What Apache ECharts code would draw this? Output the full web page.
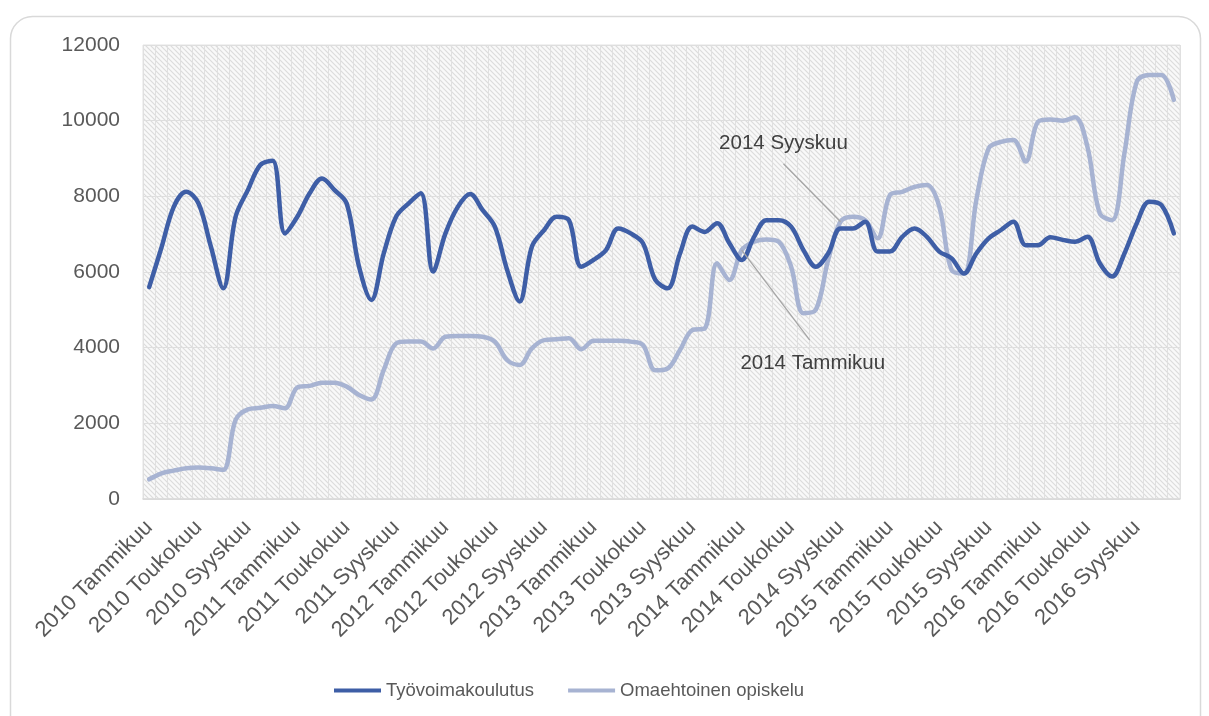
<!DOCTYPE html>
<html>
<head>
<meta charset="utf-8">
<script src="https://cdn.jsdelivr.net/npm/echarts@6/dist/echarts.min.js"></script>
<style>
  html, body { margin: 0; padding: 0; background: #fff; }
  #chart { width: 1209px; height: 716px; }
</style>
</head>
<body>
<div id="chart"></div>
<script>
// kuukaudet ja vuodet -> kategoriat
const years = [2010, 2011, 2012, 2013, 2014, 2015, 2016]
const months = ['Tammikuu', 'Helmikuu', 'Maaliskuu', 'Huhtikuu', 'Toukokuu', 'Kesäkuu',
  'Heinäkuu', 'Elokuu', 'Syyskuu', 'Lokakuu', 'Marraskuu', 'Joulukuu']
const categories = years.flatMap(y => months.map(m => y + ' ' + m))

const seriesNames = ['Työvoimakoulutus', 'Omaehtoinen opiskelu']

const tyovoimakoulutus = [
  5600, 6650, 7730, 8120, 7810, 6670, 5570, 7460, 8170, 8830, 8940, 7020,
  7460, 8080, 8470, 8170, 7810, 6140, 5260, 6490, 7460, 7810, 8080, 6010,
  7020, 7720, 8060, 7640, 7200, 6050, 5220, 6670, 7110, 7460, 7370, 6140,
  6320, 6580, 7150, 7020, 6760, 5790, 5570, 6490, 7200, 7060, 7290, 6760,
  6320, 6930, 7370, 7370, 7200, 6580, 6140, 6490, 7150, 7150, 7330, 6540,
  6540, 6930, 7150, 6930, 6540, 6360, 5960, 6490, 6890, 7110, 7330, 6710,
  6710, 6920, 6850, 6800, 6930, 6230, 5880, 6490, 7290, 7860, 7770, 7020
]

const omaehtoinen = [
  520, 680, 750, 810, 830, 810, 770, 2090, 2370, 2410, 2460, 2400,
  2950, 2990, 3075, 3075, 2970, 2750, 2630, 3410, 4110, 4160, 4160, 3980,
  4290, 4310, 4310, 4290, 4160, 3670, 3540, 3980, 4200, 4220, 4250, 3960,
  4180, 4180, 4180, 4160, 4070, 3400, 3450, 3940, 4470, 4510, 6230, 5790,
  6580, 6800, 6860, 6800, 6140, 4910, 5000, 6320, 7330, 7460, 7370, 6890,
  8030, 8120, 8250, 8300, 7730, 6050, 5960, 7900, 9270, 9440, 9490, 8920,
  9970, 10030, 10000, 10090, 9310, 7550, 7370, 9140, 11030, 11210, 11210, 10550
]

// merkityt kohdat (datalabelit omaehtoisen sarjassa)
const annotated = ['2014 Tammikuu', '2014 Syyskuu']

const yTicks = [0, 2000, 4000, 6000, 8000, 10000, 12000]

const FONT = '"Liberation Sans", Arial, sans-serif'

// vinoviivoitus piirtoalueen taustaksi
const makeHatch = () => {
  const c = document.createElement('canvas')
  c.width = 5
  c.height = 5
  const ctx = c.getContext('2d')
  ctx.fillStyle = '#f9f9f9'
  ctx.fillRect(0, 0, 5, 5)
  ctx.strokeStyle = '#dcdcdc'
  ctx.lineWidth = 1.2
  ctx.beginPath()
  ctx.moveTo(-1, -1); ctx.lineTo(6, 6)
  ctx.moveTo(-1, 4); ctx.lineTo(1, 6)
  ctx.moveTo(4, -1); ctx.lineTo(6, 1)
  ctx.stroke()
  return c
}

// selitteen viivan pää ja tekstin keskikohta suhteessa datapisteeseen
const labelOffsets = {
  '2014 Tammikuu': { line: [68, 90], text: [71, 113] },
  '2014 Syyskuu': { line: [-57, -58], text: [-57, -78] }
}

const chart = echarts.init(document.getElementById('chart'))

chart.setOption({
  animation: false,
  textStyle: { fontFamily: FONT },
  grid: {
    left: 143,
    right: 29,
    top: 45,
    bottom: 217,
    show: true,
    backgroundColor: { image: makeHatch(), repeat: 'repeat' },
    borderColor: '#e2e2e2',
    borderWidth: 1,
    outerBoundsMode: 'none'
  },
  legend: {
    data: seriesNames,
    top: 676,
    left: 329,
    icon: 'rect',
    itemWidth: 47,
    itemHeight: 4,
    itemGap: 34,
    textStyle: { fontFamily: FONT, fontSize: 18.5, color: '#595959' }
  },
  xAxis: {
    type: 'category',
    data: categories,
    boundaryGap: true,
    axisLine: { lineStyle: { color: '#d9d9d9', width: 1.5 } },
    axisTick: { show: false },
    axisLabel: {
      interval: 3,
      rotate: 45,
      margin: 25,
      fontFamily: FONT,
      fontSize: 22,
      color: '#595959'
    },
    splitLine: {
      show: true,
      interval: 0,
      lineStyle: { color: '#e0e0e0', width: 1 }
    }
  },
  yAxis: {
    type: 'value',
    min: yTicks[0],
    max: yTicks[yTicks.length - 1],
    interval: 2000,
    axisLine: { show: false },
    axisTick: { show: false },
    axisLabel: {
      margin: 23,
      formatter: v => String(v),
      fontFamily: FONT,
      fontSize: 21,
      color: '#595959'
    },
    splitLine: { lineStyle: { color: '#dedede', width: 1.2 } }
  },
  series: [
    {
      name: seriesNames[0],
      type: 'line',
      data: tyovoimakoulutus,
      smooth: 0.35,
      symbol: 'none',
      lineStyle: { color: '#3e5ea6', width: 4.5, cap: 'round', join: 'round' },
      itemStyle: { color: '#3e5ea6' },
      z: 3
    },
    {
      name: seriesNames[1],
      type: 'line',
      data: omaehtoinen,
      smooth: 0.35,
      symbol: 'none',
      lineStyle: { color: '#a7b3d2', width: 4.5, cap: 'round', join: 'round' },
      itemStyle: { color: '#a7b3d2' },
      z: 2
    }
  ]
})

// datalabelit + viivat, paikka haetaan akselien kautta
const annGraphics = []
annotated.forEach(cat => {
  const idx = categories.indexOf(cat)
  const p = chart.convertToPixel({ gridIndex: 0 }, [cat, omaehtoinen[idx]])
  const off = labelOffsets[cat]
  annGraphics.push({
    type: 'line',
    shape: { x1: p[0], y1: p[1], x2: p[0] + off.line[0], y2: p[1] + off.line[1] },
    style: { stroke: '#a6a6a6', lineWidth: 1.3 },
    silent: true,
    z: 10
  })
  annGraphics.push({
    type: 'text',
    x: p[0] + off.text[0],
    y: p[1] + off.text[1],
    style: {
      text: cat,
      font: '20.5px ' + FONT,
      fill: '#404040',
      align: 'center',
      verticalAlign: 'middle'
    },
    silent: true,
    z: 10
  })
})

chart.setOption({
  graphic: [{
    type: 'rect',
    shape: { x: 10.5, y: 16.5, width: 1190, height: 740, r: 22 },
    style: { fill: 'none', stroke: '#d9d9d9', lineWidth: 1.5 },
    silent: true,
    z: -10
  }].concat(annGraphics)
})
</script>
</body>
</html>
